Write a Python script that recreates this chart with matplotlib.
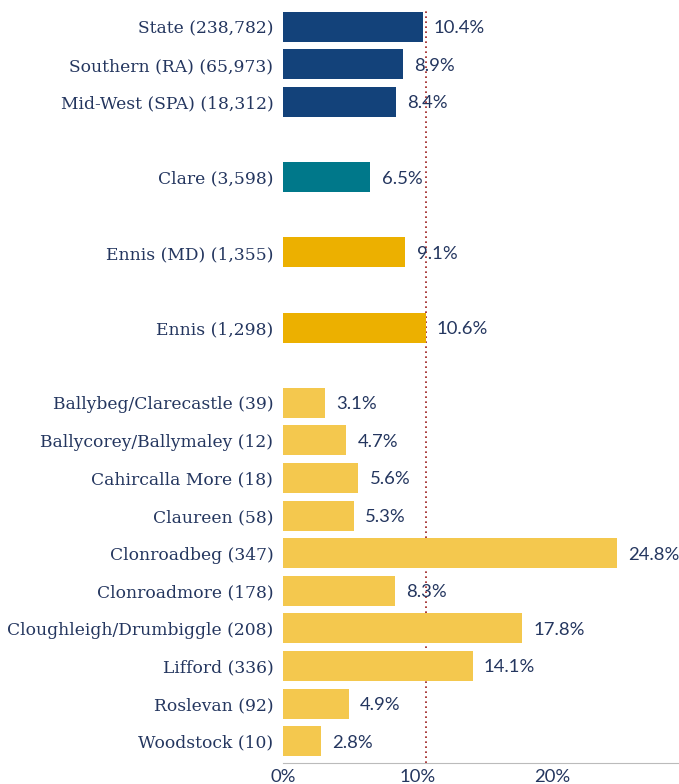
import matplotlib as mpl
mpl.use('Agg')
import matplotlib.pyplot as plt

# areas and their percentage values, top to bottom
labels = ['State (238,782)', 'Southern (RA) (65,973)', 'Mid-West (SPA) (18,312)',
          'Clare (3,598)', 'Ennis (MD) (1,355)', 'Ennis (1,298)',
          'Ballybeg/Clarecastle (39)', 'Ballycorey/Ballymaley (12)',
          'Cahircalla More (18)', 'Claureen (58)', 'Clonroadbeg (347)',
          'Clonroadmore (178)', 'Cloughleigh/Drumbiggle (208)', 'Lifford (336)',
          'Roslevan (92)', 'Woodstock (10)']
values = [10.4, 8.9, 8.4, 6.5, 9.1, 10.6, 3.1, 4.7, 5.6, 5.3, 24.8, 8.3,
          17.8, 14.1, 4.9, 2.8]
rows = [0, 1, 2, 4, 6, 8, 10, 11, 12, 13, 14, 15, 16, 17, 18, 19]
colors = ['#13427a'] * 3 + ['#00788a'] + ['#ecb000'] * 2 + ['#f4c84e'] * 10
ref_value = 10.6  # Ennis
ticks = [0, 10, 20]

navy = '#24365f'

fig = plt.figure(figsize=(6.79, 7.84), dpi=100)
ax = fig.add_axes([283 / 679, 21 / 784, 396 / 679, 755 / 784])

ax.barh(rows, values, height=0.8, color=colors)
ax.axvline(ref_value, color='#9b1c1c', linestyle=(0, (1, 2)), linewidth=1.2, zorder=0)

for r, v in zip(rows, values):
    ax.annotate(f'{v}%', (v, r), xytext=(8, -1), textcoords='offset points',
                va='center', ha='left', fontsize=13.3, color=navy, family='Lato')

ax.set_yticks(rows)
ax.set_yticklabels(labels, fontsize=12.3, color=navy, family='DejaVu Serif')
ax.tick_params(axis='y', length=0, pad=7)
ax.set_xticks(ticks)
ax.set_xticklabels([f'{t}%' for t in ticks], fontsize=13.3, color=navy, family='Lato')
ax.tick_params(axis='x', length=0, pad=4)

ax.set_xlim(0, 396 / 13.45)
ax.set_ylim(19.58, -0.5)
for s in ['top', 'right', 'left']:
    ax.spines[s].set_visible(False)
ax.spines['bottom'].set_color('#bbbbbb')

plt.savefig('out.png')
plt.close()
